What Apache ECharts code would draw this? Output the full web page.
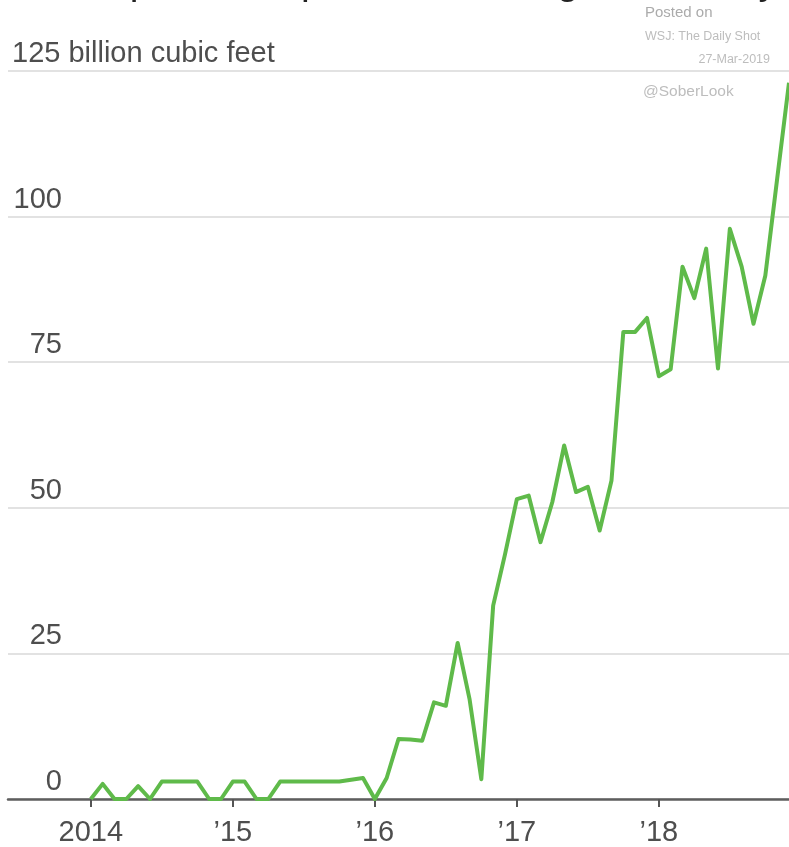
<!DOCTYPE html>
<html><head><meta charset="utf-8">
<script src="https://cdn.jsdelivr.net/npm/echarts@6/dist/echarts.min.js"></script>
<style>html,body{margin:0;padding:0;background:#fff}#c{width:789px;height:847px}</style>
</head><body><div id="c"></div>
<script>
// Monthly categories Jan 2014 .. Dec 2018
const years = [2014, 2015, 2016, 2017, 2018];
const monthNames = ['Jan','Feb','Mar','Apr','May','Jun','Jul','Aug','Sep','Oct','Nov','Dec'];
const categories = [];
years.forEach(y => monthNames.forEach(m => categories.push(m + ' ' + y)));

// Values, billion cubic feet
const values2014 = [0, 2.6, 0, 0, 2.2, 0, 3.0, 3.0, 3.0, 3.0, 0, 0];
const values2015 = [3.0, 3.0, 0, 0, 3.0, 3.0, 3.0, 3.0, 3.0, 3.0, 3.3, 3.6];
const values2016 = [0, 3.6, 10.3, 10.2, 10.0, 16.6, 16.0, 26.8, 17.2, 3.4, 33.2, 42.0];
const values2017 = [51.5, 52.1, 44.1, 51.0, 60.7, 52.7, 53.6, 46.1, 54.7, 80.2, 80.2, 82.6];
const values2018 = [72.6, 73.8, 91.4, 86.0, 94.5, 73.9, 97.9, 91.4, 81.6, 89.9, 106.5, 123.0];
const values = [].concat(values2014, values2015, values2016, values2017, values2018);

// Tick labels
const yearTickIndex = [0, 12, 24, 36, 48];
const yearTickLabels = ['2014', '\u201915', '\u201916', '\u201917', '\u201918'];
const yTopLabel = '125 billion cubic feet';

const titleText = 'U.S. exports of liquefied natural gas, monthly';
const watermark = ['Posted on', 'WSJ: The Daily Shot', '27-Mar-2019', '@SoberLook'];

const FONT = '"Liberation Sans", Arial, sans-serif';
const labelColor = '#4e4e4e';

const chart = echarts.init(document.getElementById('c'), null, {renderer: 'canvas'});
chart.setOption({
  animation: false,
  backgroundColor: '#ffffff',
  grid: {left: 8, right: 0, top: 71, bottom: 47, containLabel: false},
  xAxis: {
    type: 'value',
    min: -7,
    max: 59,
    splitLine: {show: false},
    axisLine: {show: true, onZero: true, lineStyle: {color: '#5e5e5e', width: 2.5}},
    axisTick: {show: true, customValues: yearTickIndex, length: 8, inside: false,
               lineStyle: {color: '#555', width: 2}},
    axisLabel: {
      customValues: yearTickIndex,
      formatter: v => yearTickLabels[yearTickIndex.indexOf(v)],
      fontFamily: FONT, fontSize: 29, color: labelColor, margin: 19
    }
  },
  yAxis: {
    type: 'value',
    min: 0,
    max: 125,
    interval: 25,
    axisLine: {show: false},
    axisTick: {show: false},
    splitLine: {show: true, lineStyle: {color: '#e2e2e2', width: 2.2}},
    axisLabel: {
      inside: true,
      margin: 4,
      align: 'left',
      verticalAlign: 'bottom',
      formatter: v => v === 125 ? '{t|' + yTopLabel + '}' : '{v|' + v + '}',
      rich: {
        t: {fontFamily: FONT, fontSize: 29, color: labelColor, lineHeight: 34},
        v: {fontFamily: FONT, fontSize: 29, color: labelColor, lineHeight: 34, width: 50, align: 'right'}
      }
    }
  },
  series: [{
    type: 'line',
    data: categories.map((c, i) => [i, values[i]]),
    showSymbol: false,
    lineStyle: {color: '#5fba4a', width: 4, join: 'round'},
    z: 5
  }],
  graphic: [
    {type: 'text', x: 2, y: 3, z: 10, style: {text: titleText, fontFamily: FONT, fontSize: 39, fill: '#222', verticalAlign: 'bottom', align: 'left'}},
    {type: 'text', x: 645, y: 13, style: {text: watermark[0], fontFamily: FONT, fontSize: 15, fill: '#ababab', verticalAlign: 'middle', align: 'left'}},
    {type: 'text', x: 645, y: 37, style: {text: watermark[1], fontFamily: FONT, fontSize: 12.5, fill: '#bdbdbd', verticalAlign: 'middle', align: 'left'}},
    {type: 'text', x: 770, y: 60, style: {text: watermark[2], fontFamily: FONT, fontSize: 12.5, fill: '#bdbdbd', verticalAlign: 'middle', align: 'right'}},
    {type: 'text', x: 643, y: 92, style: {text: watermark[3], fontFamily: FONT, fontSize: 15.5, fill: '#bdbdbd', verticalAlign: 'middle', align: 'left'}}
  ]
});
</script>
</body></html>
